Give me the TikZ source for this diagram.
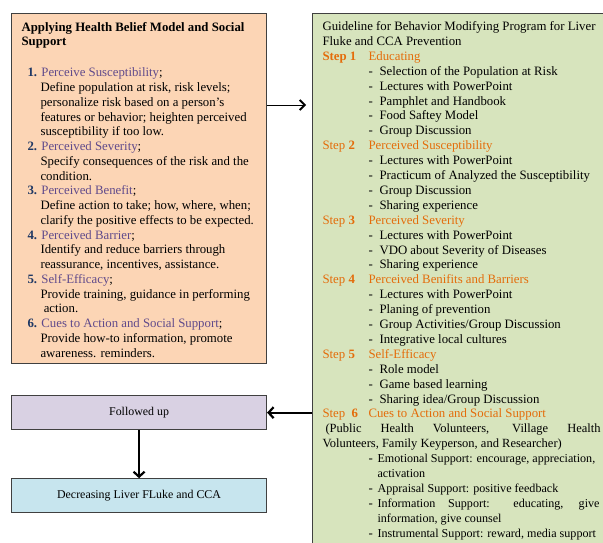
\documentclass[tikz,border=0pt]{standalone}
\usepackage{fontspec}
\setmainfont{Liberation Serif}
\usetikzlibrary{positioning,arrows.meta}

\definecolor{hbmfill}{HTML}{FCD5B5}
\definecolor{guidefill}{HTML}{D7E4BD}
\definecolor{followfill}{HTML}{D9D1E3}
\definecolor{decrfill}{HTML}{C7E5EE}
\definecolor{steporange}{HTML}{E46C0A}
\definecolor{hbmpurple}{HTML}{604A8B}
\definecolor{numblue}{HTML}{1F3864}

\newcommand{\hnum}[1]{\hspace*{6pt}\textcolor{numblue}{\textbf{#1}} }
\newcommand{\hbmtxt}{\hspace*{19pt}}
\newcommand{\stepline}[2]{\textcolor{steporange}{\makebox[46pt][l]{#1}#2}}
\newcommand{\gitem}[1]{\hspace*{46pt}\makebox[11pt][l]{-}#1}
\newcommand{\sitem}[1]{\hspace*{46pt}\makebox[9pt][l]{-}{\fontsize{12.1}{14.9}\selectfont #1}}
\newcommand{\smore}[1]{\hspace*{55pt}{\fontsize{12.1}{14.9}\selectfont #1}}

\begin{document}
\begin{tikzpicture}[x=1pt,y=1pt,
    bigbox/.style={draw=black!75, line width=1.1pt, inner xsep=10pt, inner ysep=7pt, anchor=north west},
    flatbox/.style={draw=black!75, line width=1.1pt, minimum width=255pt, minimum height=34pt,
      font=\fontsize{11.9}{14}\selectfont},
    thinarrow/.style={line width=0.8pt, -{Straight Barb[length=5pt,width=10pt,line width=1.8pt]}},
    thickarrow/.style={line width=2.2pt, -{Straight Barb[length=5pt,width=11pt]}}]
  \useasboundingbox (0,0) rectangle (603,-543);

  % left box: health belief model
  \node[bigbox, fill=hbmfill] (hbm) at (11,-13) {\parbox[t][336pt][t]{235pt}{\fontsize{12.8}{14.75}\selectfont
    \vspace*{1.5pt}\textbf{Applying Health Belief Model and Social}\\
    \textbf{Support}\\[16.3pt]
    \hnum{1.}\textcolor{hbmpurple}{Perceive Susceptibility};\\
    \hbmtxt Define population at risk, risk levels;\\
    \hbmtxt personalize risk based on a person's\\
    \hbmtxt features or behavior; heighten perceived\\
    \hbmtxt susceptibility if too low.\\
    \hnum{2.}\textcolor{hbmpurple}{Perceived Severity};\\
    \hbmtxt Specify consequences of the risk and the\\
    \hbmtxt condition.\\
    \hnum{3.}\textcolor{hbmpurple}{Perceived Benefit};\\
    \hbmtxt Define action to take; how, where, when;\\
    \hbmtxt clarify the positive effects to be expected.\\
    \hnum{4.}\textcolor{hbmpurple}{Perceived Barrier};\\
    \hbmtxt Identify and reduce barriers through\\
    \hbmtxt reassurance, incentives, assistance.\\
    \hnum{5.}\textcolor{hbmpurple}{Self-Efficacy};\\
    \hbmtxt Provide training, guidance in performing\\
    \hbmtxt\ action.\\
    \hnum{6.}\textcolor{hbmpurple}{Cues to Action and Social Support};\\
    \hbmtxt Provide how-to information, promote\\
    \hbmtxt awareness. reminders.}};

  % right box: guideline
  \node[bigbox, fill=guidefill] (guide) at (312,-13) {\parbox[t][530pt][t]{290pt}{\fontsize{12.8}{14.9}\selectfont
    \vspace*{1pt}Guideline for Behavior Modifying Program for Liver\\
    Fluke and CCA Prevention\\
    \stepline{\textbf{Step 1}}{Educating}\\
    \gitem{Selection of the Population at Risk}\\
    \gitem{Lectures with PowerPoint}\\
    \gitem{Pamphlet and Handbook}\\
    \gitem{Food Saftey Model}\\
    \gitem{Group Discussion}\\
    \stepline{Step \textbf{2}}{Perceived Susceptibility}\\
    \gitem{Lectures with PowerPoint}\\
    \gitem{Practicum of Analyzed the Susceptibility}\\
    \gitem{Group Discussion}\\
    \gitem{Sharing experience}\\
    \stepline{Step \textbf{3}}{Perceived Severity}\\
    \gitem{Lectures with PowerPoint}\\
    \gitem{VDO about Severity of Diseases}\\
    \gitem{Sharing experience}\\
    \stepline{Step \textbf{4}}{Perceived Benifits and Barriers}\\
    \gitem{Lectures with PowerPoint}\\
    \gitem{Planing of prevention}\\
    \gitem{Group Activities/Group Discussion}\\
    \gitem{Integrative local cultures}\\
    \stepline{Step \textbf{5}}{Self-Efficacy}\\
    \gitem{Role model}\\
    \gitem{Game based learning}\\
    \gitem{Sharing idea/Group Discussion}\\
    \stepline{Step\ \ \textbf{6}}{Cues to Action and Social Support}\\
    {\fontsize{12.5}{14.9}\selectfont\hspace*{3pt}\makebox[275pt][s]{(Public Health Volunteers, Village Health}\\
    Volunteers, Family Keyperson, and Researcher)}\\
    \sitem{Emotional Support: encourage, appreciation,}\\
    \smore{activation}\\
    \sitem{Appraisal Support: positive feedback}\\
    \sitem{\makebox[222pt][s]{Information Support: educating, give}}\\
    \smore{information, give counsel}\\
    \sitem{Instrumental Support: reward, media support}}};

  % bottom boxes
  \node[flatbox, fill=followfill, below=31pt of hbm] (follow) {Followed up};
  \node[flatbox, fill=decrfill, below=48pt of follow] (decr) {Decreasing Liver FLuke and CCA};

  \draw[thinarrow, shorten >=6pt] ([yshift=-92pt]hbm.north east) -- ([yshift=-92pt]guide.north west);
  \draw[thickarrow] (guide.west |- follow.east) -- (follow.east);
  \draw[thickarrow] (follow.south) -- (decr.north);
\end{tikzpicture}
\end{document}
